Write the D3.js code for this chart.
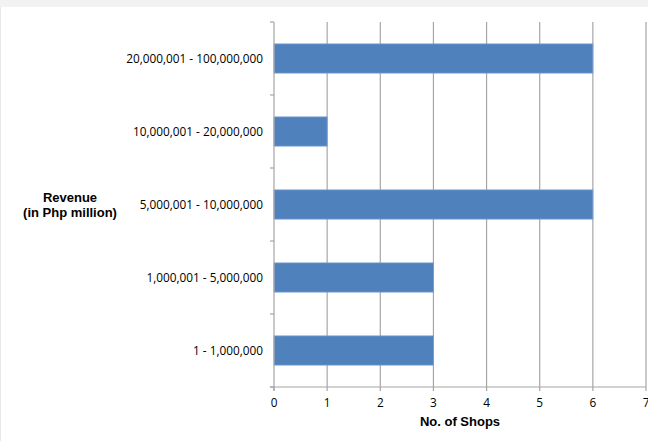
<!DOCTYPE html>
<html><head><meta charset="utf-8">
<script src="https://cdn.jsdelivr.net/npm/d3@7"></script>
<style>html,body{margin:0;padding:0;background:#fff;}svg{display:block;}</style>
</head><body>
<svg id="chart" width="648" height="441"></svg>
<script>
const categories = ["20,000,001 - 100,000,000","10,000,001 - 20,000,000","5,000,001 - 10,000,000","1,000,001 - 5,000,000","1 - 1,000,000"];
const shops = [6, 1, 6, 3, 3];
const xTicks = [0,1,2,3,4,5,6,7];
const xTitle = "No. of Shops";
const yTitle = ["Revenue", "(in Php million)"];

const svg = d3.select("#chart");
const m = {left: 274, right: 646, top: 22, bottom: 387};

// faint top strip
svg.append("rect").attr("x",0).attr("y",0).attr("width",648).attr("height",7).attr("fill","#f2f2f2");
svg.append("rect").attr("x",0).attr("y",7).attr("width",1).attr("height",434).attr("fill","#e8e8e8");

const x = d3.scaleLinear().domain([0,7]).range([m.left, m.right]);
const y = d3.scaleBand().domain(categories).range([m.top, m.bottom]).paddingInner(0.6).paddingOuter(0.3);
const yb = d3.scaleBand().domain(categories).range([m.top, m.bottom]);

// gridlines
svg.append("g").selectAll("line").data(xTicks.slice(1)).join("line")
  .attr("x1", d=>x(d)).attr("x2", d=>x(d)).attr("y1", m.top).attr("y2", m.bottom)
  .attr("stroke","#a6a6a6").attr("stroke-width",1.2);

// bars
svg.append("g").selectAll("rect").data(categories).join("rect")
  .attr("x", x(0)).attr("y", d=>y(d))
  .attr("width", (d,i)=>x(shops[i])-x(0)).attr("height", y.bandwidth())
  .attr("fill","#4f81bd").attr("stroke","#7a9fd1").attr("stroke-width",0.8);

// y axis line & ticks
const ya = svg.append("g");
ya.append("line").attr("x1",m.left).attr("x2",m.left).attr("y1",m.top).attr("y2",m.bottom+4).attr("stroke","#a6a6a6").attr("stroke-width",1.2);
const yTickPos = categories.map(c=>yb(c)).concat([m.bottom]);
ya.selectAll("line.t").data(yTickPos).join("line").attr("class","t")
  .attr("x1",m.left-4).attr("x2",m.left).attr("y1",d=>d).attr("y2",d=>d)
  .attr("stroke","#a6a6a6").attr("stroke-width",1.2);
ya.selectAll("text").data(categories).join("text")
  .attr("x", 263).attr("y", d=>y(d)+y.bandwidth()/2).attr("dy","0.35em")
  .attr("text-anchor","end").attr("font-family","Open Sans").attr("font-size","11.8px").attr("fill","#000")
  .text(d=>d);

// x axis
const xa = svg.append("g");
xa.append("line").attr("x1",m.left-4).attr("x2",m.right).attr("y1",m.bottom).attr("y2",m.bottom).attr("stroke","#a6a6a6").attr("stroke-width",1.2);
xa.selectAll("line.t").data(xTicks).join("line").attr("class","t")
  .attr("x1",d=>x(d)).attr("x2",d=>x(d)).attr("y1",m.bottom).attr("y2",m.bottom+4)
  .attr("stroke","#a6a6a6").attr("stroke-width",1.2);
xa.selectAll("text").data(xTicks).join("text")
  .attr("x", d=>x(d)).attr("y", 403).attr("dy","0.35em").attr("text-anchor","middle")
  .attr("font-family","Open Sans").attr("font-size","11.8px").attr("fill","#000").text(d=>d);

svg.append("text").attr("x",(m.left+m.right)/2).attr("y",421).attr("dy","0.35em").attr("text-anchor","middle")
  .attr("font-family","Liberation Sans, Arial, sans-serif").attr("font-weight","bold").attr("font-size","13px").text(xTitle);

svg.append("g").selectAll("text").data(yTitle).join("text")
  .attr("x",70).attr("y",(d,i)=>197+i*15).attr("dy","0.35em").attr("text-anchor","middle")
  .attr("font-family","Liberation Sans, Arial, sans-serif").attr("font-weight","bold").attr("font-size","13px").text(d=>d);
</script>
</body></html>
